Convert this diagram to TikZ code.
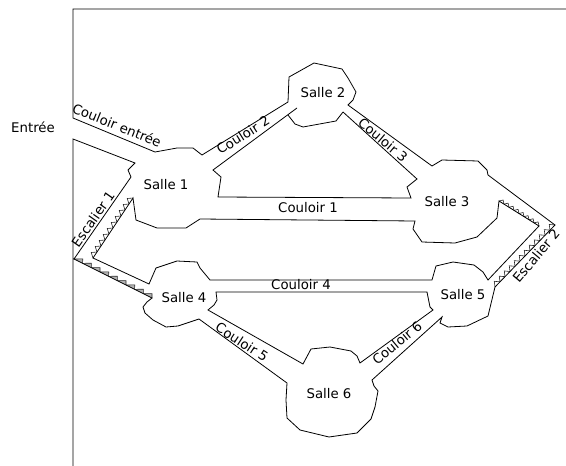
\documentclass[tikz,border=0pt]{standalone}
\usepackage{fontspec}
\setmainfont{DejaVu Sans}
\tikzset{
 wall/.style={draw=black,line width=0.8pt,line join=miter},
 lbl/.style={font=\fontsize{13.3}{15}\selectfont,inner sep=0pt,text=black},
 tooth/.style={draw=black!85,line width=0.6pt},
 greytooth/.style={tooth,fill=black!30}
}
% \stairrun{style}{x1}{y1}{x2}{y2}{teeth}{height}{apex fraction}
\newcommand{\stairrun}[8]{%
 \pgfmathsetmacro{\sdx}{(#4-#2)/#6}%
 \pgfmathsetmacro{\sdy}{(#5-#3)/#6}%
 \pgfmathsetmacro{\slen}{sqrt(\sdx*\sdx+\sdy*\sdy)}%
 \pgfmathsetmacro{\snx}{\sdy/\slen*#7}%
 \pgfmathsetmacro{\sny}{-\sdx/\slen*#7}%
 \pgfmathtruncatemacro{\slast}{#6-1}%
 \foreach \si in {0,...,\slast}{%
  \pgfmathsetmacro{\sax}{#2+\si*\sdx}%
  \pgfmathsetmacro{\say}{#3+\si*\sdy}%
  \path[#1] (\sax,\say) -- ({\sax+#8*\sdx+\snx},{\say+#8*\sdy+\sny}) -- ({\sax+\sdx},{\say+\sdy});
 }}
\begin{document}
\begin{tikzpicture}[x=1pt,y=-1pt]
\useasboundingbox (0,0) rectangle (566,466);
% stairs
\stairrun{tooth}{133}{198}{93}{258}{10}{-4.5}{0.5}
\stairrun{greytooth}{74}{259}{152}{298}{9}{4}{0.8}
\stairrun{tooth}{495}{287}{555}{225}{12}{4.5}{0.5}
\stairrun{tooth}{499}{201}{539}{226}{8}{3}{0.5}
% outer outline
\draw[wall] (566,9) -- (73,9) -- (73,118) -- (155,152) -- (177,148) -- (193,148) -- (202,155) -- (288,102) -- (289,77) -- (314,63) -- (342,69) -- (348,78) -- (356,92) -- (353,100) -- (348,105) -- (432,166) -- (442,160) -- (478,161) -- (487,170) -- (488,175) -- (555,225) -- (495,287) -- (488,316) -- (467,326) -- (448,327) -- (440,323) -- (442,317) -- (372,380) -- (374,386) -- (378,391) -- (375,407) -- (371,419) -- (357,433) -- (329,437) -- (300,430) -- (287,418) -- (286,400) -- (287,383) -- (199,319) -- (178,326) -- (166,327) -- (153,320) -- (145,313) -- (143,307) -- (147,302) -- (152,298) -- (74,259) -- (131,177) -- (128,170) -- (135,163) -- (73,139) -- (73,466);
% inner island between rooms 1,3,5,4
\draw[wall] (133,198) -- (136,220) -- (157,228) -- (186,228) -- (200,219) -- (415,221) -- (413,229) -- (422,242) -- (455,243) -- (477,237) -- (497,218) -- (499,201) -- (539,226) -- (488,280) -- (483,272) -- (474,265) -- (453,262) -- (436,266) -- (432,280) -- (210,280) -- (200,268) -- (197,262) -- (177,261) -- (156,268) -- (149,284) -- (93,258) -- cycle;
% upper triangle
\draw[wall] (343,112) -- (417,179) -- (407,187) -- (411,198) -- (218,197) -- (221,177) -- (213,170) -- (297,108);
\draw[wall] (288,115) -- (295,124) -- (303,127) -- (336,121) -- (343,112);
% lower triangle
\draw[wall] (427,292) -- (216,292) -- (217,300) -- (214,305) -- (208,310) -- (303,364) -- (311,349) -- (330,347) -- (351,351) -- (357,356) -- (360,363) -- (433,310) -- (430,307) -- (428,297) -- cycle;
% labels
\node[lbl] (entree) at (33,127) {Entrée};
\node[lbl] (s1) at (166,185) {Salle 1};
\node[lbl] (s2) at (323,93) {Salle 2};
\node[lbl] (s3) at (447,202) {Salle 3};
\node[lbl] (s4) at (184,298) {Salle 4};
\node[lbl] (s5) at (463,295) {Salle 5};
\node[lbl] (s6) at (329,394) {Salle 6};
\node[lbl,rotate=-22] (ce) at (117,125) {Couloir entrée};
\node[lbl,rotate=32] (c2) at (243,135) {Couloir 2};
\node[lbl,rotate=-40] (c3) at (383,140) {Couloir 3};
\node[lbl] (c1) at (308,208) {Couloir 1};
\node[lbl] (c4) at (301,285) {Couloir 4};
\node[lbl,rotate=-33] (c5) at (242,342) {Couloir 5};
\node[lbl,rotate=40] (c6) at (397,343) {Couloir 6};
\node[lbl,rotate=55] (e1) at (93,219) {Escalier 1};
\node[lbl,rotate=50] (e2) at (536,256) {Escalier 2};
\end{tikzpicture}
\end{document}
